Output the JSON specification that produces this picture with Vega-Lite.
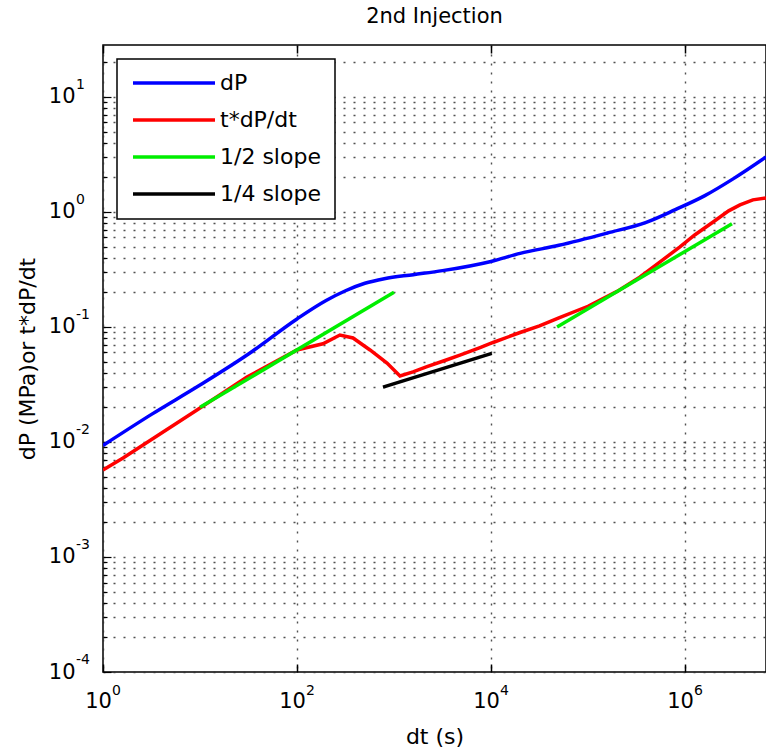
{
  "$schema": "https://vega.github.io/schema/vega-lite/v6.json",
  "autosize": {"type": "none"},
  "padding": {"left": 103, "top": 45, "right": 0, "bottom": 80},
  "width": 663,
  "height": 627,
  "background": "white",
  "config": {
    "font": "DejaVu Sans",
    "view": {"stroke": "black", "strokeWidth": 1.5},
    "axis": {"domain": false, "labelFont": "DejaVu Sans", "titleFont": "DejaVu Sans", "labelColor": "black", "titleColor": "black", "tickColor": "black", "titleFontWeight": "normal"}
  },
  "title": {"text": "2nd Injection", "fontSize": 21, "fontWeight": "normal", "font": "DejaVu Sans", "color": "black", "offset": 17},
  "datasets": {
    "blue": [
      {"series": "dP", "x": 1, "y": 0.00933},
      {"series": "dP", "x": 3.162, "y": 0.01738},
      {"series": "dP", "x": 10, "y": 0.03126},
      {"series": "dP", "x": 31.62, "y": 0.0582},
      {"series": "dP", "x": 100, "y": 0.1175},
      {"series": "dP", "x": 199.5, "y": 0.1698},
      {"series": "dP", "x": 316.2, "y": 0.2065},
      {"series": "dP", "x": 501.2, "y": 0.2399},
      {"series": "dP", "x": 794.3, "y": 0.263},
      {"series": "dP", "x": 1585, "y": 0.2851},
      {"series": "dP", "x": 3162, "y": 0.309},
      {"series": "dP", "x": 10000, "y": 0.3715},
      {"series": "dP", "x": 19953, "y": 0.4365},
      {"series": "dP", "x": 50119, "y": 0.5129},
      {"series": "dP", "x": 158489, "y": 0.6561},
      {"series": "dP", "x": 398107, "y": 0.8128},
      {"series": "dP", "x": 794328, "y": 1.047},
      {"series": "dP", "x": 1584893, "y": 1.38},
      {"series": "dP", "x": 3162278, "y": 1.95},
      {"series": "dP", "x": 6840000, "y": 3.006}
    ],
    "red": [
      {"series": "t*dP/dt", "x": 1, "y": 0.00571},
      {"series": "t*dP/dt", "x": 1.61, "y": 0.00726},
      {"series": "t*dP/dt", "x": 9.31, "y": 0.019},
      {"series": "t*dP/dt", "x": 30.5, "y": 0.0367},
      {"series": "t*dP/dt", "x": 100, "y": 0.0631},
      {"series": "t*dP/dt", "x": 185, "y": 0.0715},
      {"series": "t*dP/dt", "x": 277, "y": 0.0851},
      {"series": "t*dP/dt", "x": 378, "y": 0.0802},
      {"series": "t*dP/dt", "x": 566, "y": 0.0631},
      {"series": "t*dP/dt", "x": 847, "y": 0.0486},
      {"series": "t*dP/dt", "x": 1153, "y": 0.0375},
      {"series": "t*dP/dt", "x": 1570, "y": 0.0407},
      {"series": "t*dP/dt", "x": 2188, "y": 0.0452},
      {"series": "t*dP/dt", "x": 3516, "y": 0.0519},
      {"series": "t*dP/dt", "x": 4786, "y": 0.0569},
      {"series": "t*dP/dt", "x": 7709, "y": 0.0661},
      {"series": "t*dP/dt", "x": 10500, "y": 0.0733},
      {"series": "t*dP/dt", "x": 19953, "y": 0.0895},
      {"series": "t*dP/dt", "x": 31623, "y": 0.1023},
      {"series": "t*dP/dt", "x": 50119, "y": 0.1202},
      {"series": "t*dP/dt", "x": 100000, "y": 0.1514},
      {"series": "t*dP/dt", "x": 199526, "y": 0.204},
      {"series": "t*dP/dt", "x": 344000, "y": 0.272},
      {"series": "t*dP/dt", "x": 562341, "y": 0.372},
      {"series": "t*dP/dt", "x": 887000, "y": 0.497},
      {"series": "t*dP/dt", "x": 1258925, "y": 0.631},
      {"series": "t*dP/dt", "x": 1950000, "y": 0.818},
      {"series": "t*dP/dt", "x": 2818383, "y": 1.023},
      {"series": "t*dP/dt", "x": 3690000, "y": 1.151},
      {"series": "t*dP/dt", "x": 5011872, "y": 1.274},
      {"series": "t*dP/dt", "x": 6840000, "y": 1.324}
    ],
    "slopes": [
      {"series": "1/2 slope", "seg": "g1", "x": 10, "y": 0.02},
      {"series": "1/2 slope", "seg": "g1", "x": 1000, "y": 0.2},
      {"series": "1/2 slope", "seg": "g2", "x": 48000, "y": 0.1},
      {"series": "1/2 slope", "seg": "g2", "x": 3050000, "y": 0.79},
      {"series": "1/4 slope", "seg": "k1", "x": 770, "y": 0.030},
      {"series": "1/4 slope", "seg": "k1", "x": 10200, "y": 0.059}
    ],
    "yexp": [
      {"y": 0.0001, "e": "-4"},
      {"y": 0.001, "e": "-3"},
      {"y": 0.01, "e": "-2"},
      {"y": 0.1, "e": "-1"},
      {"y": 1, "e": "0"},
      {"y": 10, "e": "1"}
    ],
    "xexp": [
      {"x": 1, "e": "0"},
      {"x": 100, "e": "2"},
      {"x": 10000, "e": "4"},
      {"x": 1000000, "e": "6"}
    ]
  },
  "resolve": {"axis": {"x": "independent"}},
  "layer": [
    {
      "data": {"name": "blue"},
      "mark": {"type": "line", "strokeWidth": 3.5, "interpolate": "monotone", "clip": true},
      "encoding": {
        "x": {"field": "x", "type": "quantitative",
          "scale": {"type": "log", "domain": [1, 6840000], "nice": false},
          "axis": {"orient": "bottom", "values": [1, 100, 10000, 1000000], "title": "dt (s)", "titleFontSize": 22, "titlePadding": 15,
            "labelFontSize": 21, "tickSize": -8, "tickWidth": 1.5, "labelPadding": 26, "labelOffset": -5, "labelFlush": false,
            "grid": true, "gridDash": [2, 7], "gridColor": "#333", "gridWidth": 1.4, "gridOpacity": 0.85,
            "labelExpr": "'10'"}},
        "y": {"field": "y", "type": "quantitative",
          "scale": {"type": "log", "domain": [0.0001, 28.3], "nice": false},
          "axis": {"title": "dP (MPa)or t*dP/dt", "titleFontSize": 22, "titlePadding": 9,
            "values": [0.0001,0.0002,0.0003,0.0004,0.0005,0.0006,0.0007,0.0008,0.0009,0.001,0.002,0.003,0.004,0.005,0.006,0.007,0.008,0.009,0.01,0.02,0.03,0.04,0.05,0.06,0.07,0.08,0.09,0.1,0.2,0.3,0.4,0.5,0.6,0.7,0.8,0.9,1,2,3,4,5,6,7,8,9,10,20],
            "labelFontSize": 21, "labelPadding": 36, "labelFlush": false,
            "tickSize": {"condition": {"test": "abs(datum.value/pow(10,round(log(datum.value)/LN10))-1)<0.000001", "value": -8}, "value": -4},
            "tickWidth": 1.2,
            "grid": true, "gridDash": [2, 8], "gridColor": "#333", "gridWidth": 1.4, "gridOpacity": 0.85,
            "labelExpr": "abs(datum.value/pow(10,round(log(datum.value)/LN10))-1)<0.000001 ? '10' : ''"}},
        "color": {"field": "series", "type": "nominal",
          "scale": {"domain": ["dP", "t*dP/dt", "1/2 slope", "1/4 slope"], "range": ["#0000ff", "#ff0000", "#00ee00", "#000000"]},
          "legend": {"title": null, "orient": "none", "legendX": 14, "legendY": 14, "fillColor": "white", "strokeColor": "black",
            "padding": 14, "symbolType": "stroke", "symbolSize": 6724, "symbolStrokeWidth": 3.5, "clipHeight": 20, "rowPadding": 15,
            "labelFontSize": 22, "labelFont": "DejaVu Sans", "labelColor": "black", "labelOffset": 3, "labelLimit": 300,
            "encode": {"legend": {"update": {"strokeWidth": {"value": 1.5}}}}}}
      }
    },
    {
      "data": {"name": "red"},
      "mark": {"type": "line", "strokeWidth": 3.5, "interpolate": "linear", "clip": true},
      "encoding": {
        "x": {"field": "x", "type": "quantitative", "axis": null},
        "y": {"field": "y", "type": "quantitative"},
        "color": {"field": "series", "type": "nominal"}
      }
    },
    {
      "data": {"name": "slopes"},
      "mark": {"type": "line", "strokeWidth": 3.5, "clip": true},
      "encoding": {
        "x": {"field": "x", "type": "quantitative",
          "axis": {"orient": "top", "values": [1, 100, 10000, 1000000], "title": null, "labels": false, "grid": false, "tickSize": -8, "tickWidth": 1.5}},
        "y": {"field": "y", "type": "quantitative"},
        "color": {"field": "series", "type": "nominal"},
        "detail": {"field": "seg"}
      }
    },
    {
      "data": {"name": "yexp"},
      "mark": {"type": "text", "align": "left", "baseline": "middle", "dx": -27, "dy": -12, "fontSize": 14, "font": "DejaVu Sans", "color": "black", "clip": false},
      "encoding": {
        "x": {"datum": 1, "type": "quantitative", "axis": null},
        "y": {"field": "y", "type": "quantitative"},
        "text": {"field": "e"}
      }
    },
    {
      "data": {"name": "xexp"},
      "mark": {"type": "text", "align": "left", "baseline": "middle", "dx": 9, "dy": 19, "fontSize": 14, "font": "DejaVu Sans", "color": "black", "clip": false},
      "encoding": {
        "x": {"field": "x", "type": "quantitative", "axis": null},
        "y": {"datum": 0.0001, "type": "quantitative"},
        "text": {"field": "e"}
      }
    }
  ]
}
